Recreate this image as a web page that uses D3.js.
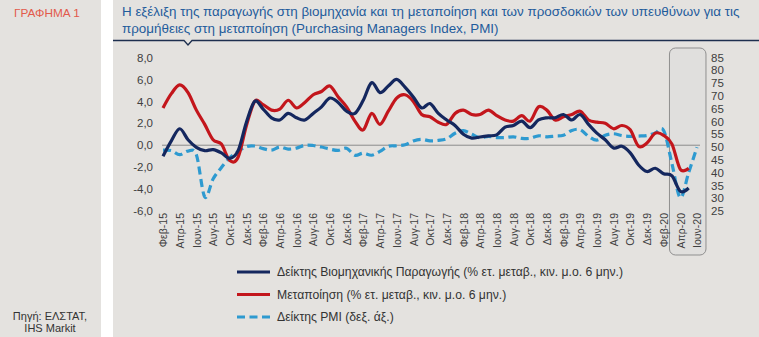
<!DOCTYPE html>
<html><head><meta charset="utf-8">
<script src="https://cdn.jsdelivr.net/npm/d3@7"></script>
<style>
html,body{margin:0;padding:0;background:#e4e2df;}
svg{display:block;font-family:"Liberation Sans",Arial,sans-serif;}
</style></head>
<body><svg id="c" width="759" height="337"></svg>
<script>
const monthAbbr = ["Ιαν","Φεβ","Μαρ","Απρ","Μαϊ","Ιουν","Ιουλ","Αυγ","Σεπ","Οκτ","Νοε","Δεκ"];
const categories = [];
for (let y = 15; y <= 20; y++) for (let m = 0; m < 12; m++) {
  if (y === 15 && m < 1) continue;
  if (y === 20 && m > 5) continue;
  categories.push(monthAbbr[m] + "-" + y);
}
const tickLabels = categories.filter((d, i) => i % 2 === 0);
const leftTicks = [8, 6, 4, 2, 0, -2, -4, -6];
const rightTicks = [85, 80, 75, 70, 65, 60, 55, 50, 45, 40, 35, 30, 25];

// Industrial production (% y/y, 6m MA), Feb-15 .. May-20
const industrial = [-1.0,0.4,1.5,0.5,-0.2,-0.5,-0.4,-0.7,-1.2,-0.5,2.1,4.0,3.3,2.5,2.3,2.9,2.5,2.3,2.9,3.5,
  4.3,3.9,3.1,2.9,4.1,5.7,4.8,5.4,6.0,5.3,4.4,3.4,3.8,2.9,2.3,1.8,1.0,0.65,0.75,0.85,
  0.95,1.65,1.8,2.2,1.6,2.3,2.5,2.5,2.8,2.3,2.8,1.9,1.1,0.5,-0.25,-0.1,-0.7,-1.8,-2.4,-2.1,
  -2.6,-2.8,-4.2,-3.9];
// Manufacturing (% y/y, 6m MA), Feb-15 .. May-20
const manufacturing = [3.4,4.7,5.5,4.8,3.2,1.9,0.5,0.1,-1.4,-1.1,1.8,4.0,3.7,3.2,3.3,4.1,3.4,3.9,4.6,4.9,
  5.4,4.4,3.5,2.2,1.4,2.9,1.9,3.1,4.3,4.6,4.0,2.8,2.6,2.1,1.9,2.9,3.2,2.8,2.8,3.2,
  2.7,2.3,2.2,2.7,2.2,3.5,3.2,2.3,2.6,2.8,3.1,2.3,2.1,2.0,1.5,1.8,1.4,-0.1,0.2,1.1,
  0.9,0.1,-2.2,-2.1];
// PMI (right axis), Feb-15 .. Jun-20
const pmi = [48.8,48.6,47.0,48.4,47.0,30.5,37.5,42.0,45.8,48.2,50.2,50.4,49.4,48.8,50.0,49.2,49.6,50.7,50.6,50.0,
  49.2,48.7,49.5,46.8,47.6,46.8,48.3,50.3,50.5,50.9,52.4,53.0,52.4,52.6,53.2,55.4,56.4,55.0,53.6,54.2,
  53.7,53.7,54.0,53.4,53.4,54.4,54.0,54.3,54.6,56.5,56.8,54.2,52.7,54.6,55.2,54.5,54.2,54.3,54.5,55.5,
  56.5,43.5,30.2,40.0,49.9];

const seriesNames = ["Δείκτης Βιομηχανικής Παραγωγής (% ετ. μεταβ., κιν. μ.ο. 6 μην.)",
  "Μεταποίηση (% ετ. μεταβ., κιν. μ.ο. 6 μην.)",
  "Δείκτης PMI (δεξ. άξ.)"];
const colors = ["#14275e", "#c3161c", "#2e9ad0"];

const svg = d3.select("#c");
svg.append("rect").attr("x", 101).attr("y", 0).attr("width", 12).attr("height", 337).attr("fill", "#ffffff");

svg.append("text").attr("x", 14).attr("y", 17).attr("font-size", 11.8).attr("fill", "#e25a4c")
  .text("ΓΡΑΦΗΜΑ 1");
const title = svg.append("text").attr("font-size", 13.4).attr("fill", "#1f5c9c");
title.append("tspan").attr("x", 122).attr("y", 16)
  .text("Η εξέλιξη της παραγωγής στη βιομηχανία και τη μεταποίηση και των προσδοκιών των υπευθύνων για τις");
title.append("tspan").attr("x", 122).attr("y", 33)
  .text("προμήθειες στη μεταποίηση (Purchasing Managers Index, PMI)");
svg.append("path").attr("d", "M113,40.5 H184 L188,45 L192,40.5 H759")
  .attr("fill", "none").attr("stroke", "#1d2f4f").attr("stroke-width", 1.3);

const x = d3.scalePoint().domain(categories).range([163, 697]);
const yL = d3.scaleLinear().domain([-6, 8]).range([211, 57.5]);
const yR = d3.scaleLinear().domain([25, 85]).range([211, 57.5]);

svg.append("rect").attr("x", x("Μαρ-20") - 2.5).attr("y", 48).attr("width", 36.5).attr("height", 207)
  .attr("rx", 6).attr("fill", "#e0dfdd").attr("stroke", "#8f8f8f").attr("stroke-width", 1);

svg.append("line").attr("x1", 162).attr("x2", 700).attr("y1", yL(0)).attr("y2", yL(0))
  .attr("stroke", "#8c8c8c").attr("stroke-width", 1);

const fmt = v => v.toFixed(1).replace(".", ",");
const gL = svg.append("g").attr("transform", "translate(153,0)")
  .call(d3.axisLeft(yL).tickValues(leftTicks).tickFormat(fmt).tickSize(0).tickPadding(0));
gL.select(".domain").remove();
gL.selectAll("text").attr("font-size", 11.5).attr("fill", "#404040").attr("font-family", "Liberation Sans, Arial");

const gR = svg.append("g").attr("transform", "translate(711,0)")
  .call(d3.axisRight(yR).tickValues(rightTicks).tickSize(0).tickPadding(0));
gR.select(".domain").remove();
gR.selectAll("text").attr("font-size", 11.5).attr("fill", "#404040").attr("font-family", "Liberation Sans, Arial");

const gX = svg.append("g").attr("transform", "translate(0,213)")
  .call(d3.axisBottom(x).tickValues(tickLabels).tickSize(0).tickPadding(0));
gX.select(".domain").remove();
gX.selectAll("text").attr("font-size", 10.5).attr("fill", "#404040").attr("font-family", "Liberation Sans, Arial")
  .attr("text-anchor", "end").attr("transform", "rotate(-90)").attr("x", 0).attr("y", 0).attr("dy", "0.35em");

const curve = d3.curveCatmullRom.alpha(0);
const lineL = d3.line().x((d, i) => x(categories[i])).y(d => yL(d)).curve(curve);
const lineR = d3.line().x((d, i) => x(categories[i])).y(d => yR(d)).curve(curve);

svg.append("path").attr("d", lineR(pmi)).attr("fill", "none").attr("stroke", colors[2])
  .attr("stroke-width", 3.2).attr("stroke-dasharray", "8,4.5");
svg.append("path").attr("d", lineL(manufacturing)).attr("fill", "none").attr("stroke", colors[1])
  .attr("stroke-width", 3.2).attr("stroke-linejoin", "round");
svg.append("path").attr("d", lineL(industrial)).attr("fill", "none").attr("stroke", colors[0])
  .attr("stroke-width", 3.2).attr("stroke-linejoin", "round");

const legY = [272, 294.5, 317];
seriesNames.forEach((n, i) => {
  svg.append("line").attr("x1", 237).attr("x2", 270).attr("y1", legY[i]).attr("y2", legY[i])
    .attr("stroke", colors[i]).attr("stroke-width", 3)
    .attr("stroke-dasharray", i === 2 ? "8,4.5" : null);
  svg.append("text").attr("x", 277).attr("y", legY[i]).attr("dy", "0.35em")
    .attr("font-size", 12.2).attr("fill", "#333").text(n);
});

const src = svg.append("text").attr("font-size", 11).attr("fill", "#333").attr("text-anchor", "middle");
src.append("tspan").attr("x", 50).attr("y", 320).text("Πηγή: ΕΛΣΤΑΤ,");
src.append("tspan").attr("x", 50).attr("y", 332).text("IHS Markit");
</script></body></html>
